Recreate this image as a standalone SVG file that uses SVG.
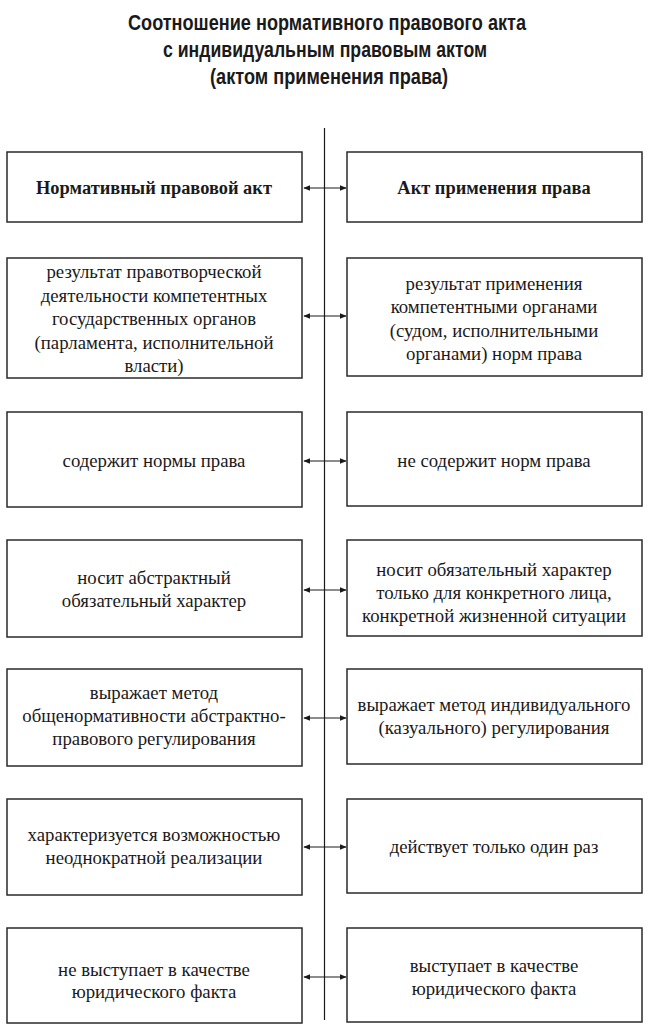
<svg xmlns="http://www.w3.org/2000/svg" width="650" height="1030" viewBox="0 0 650 1030">
<defs>
<style>
.t{font-family:"Liberation Sans",Arial,sans-serif;font-weight:bold;font-size:22px;fill:#1a1a1a;text-anchor:middle}
.b{fill:#fff;stroke:#2a2a2a;stroke-width:1.5}
.x{font-family:"Liberation Serif","Times New Roman","DejaVu Serif",serif;font-size:18.8px;fill:#1a1a1a;text-anchor:middle}
.h{font-weight:bold;font-size:18.4px}
.c{stroke:#1a1a1a;stroke-width:1.2;fill:none}
</style>
<marker id="ah" viewBox="0 0 10 10" refX="9" refY="5" markerWidth="7" markerHeight="7" orient="auto-start-reverse" markerUnits="userSpaceOnUse">
<path d="M0,1 L10,5 L0,9 Z" fill="#1a1a1a"/>
</marker>
</defs>
<rect width="650" height="1030" fill="#fff"/>
<g id="title">
<text class="t" x="327" y="30" textLength="398" lengthAdjust="spacingAndGlyphs">Соотношение нормативного правового акта</text>
<text class="t" x="325" y="57" textLength="324" lengthAdjust="spacingAndGlyphs">с индивидуальным правовым актом</text>
<text class="t" x="329" y="84" textLength="238" lengthAdjust="spacingAndGlyphs">(актом применения права)</text>
</g>
<g id="connectors">
<line class="c" x1="324.5" y1="128" x2="324.5" y2="1020"/>
<line class="c" x1="304" y1="188" x2="346" y2="188" marker-start="url(#ah)" marker-end="url(#ah)"/>
<line class="c" x1="304" y1="316" x2="346" y2="316" marker-start="url(#ah)" marker-end="url(#ah)"/>
<line class="c" x1="304" y1="461" x2="346" y2="461" marker-start="url(#ah)" marker-end="url(#ah)"/>
<line class="c" x1="304" y1="590" x2="346" y2="590" marker-start="url(#ah)" marker-end="url(#ah)"/>
<line class="c" x1="304" y1="718" x2="346" y2="718" marker-start="url(#ah)" marker-end="url(#ah)"/>
<line class="c" x1="304" y1="847" x2="346" y2="847" marker-start="url(#ah)" marker-end="url(#ah)"/>
<line class="c" x1="304" y1="977" x2="346" y2="977" marker-start="url(#ah)" marker-end="url(#ah)"/>
</g>
<g id="n1l"><rect class="b" x="7" y="152" width="295" height="70"/><text class="x h" x="154" y="194">Нормативный правовой акт</text></g>
<g id="n1r"><rect class="b" x="347" y="152" width="295" height="70"/><text class="x h" x="494" y="194">Акт применения права</text></g>
<g id="n2l"><rect class="b" x="7" y="258" width="295" height="120"/>
<text class="x" x="154" y="278">результат правотворческой</text>
<text class="x" x="154" y="302">деятельности компетентных</text>
<text class="x" x="154" y="325">государственных органов</text>
<text class="x" x="154" y="349">(парламента, исполнительной</text>
<text class="x" x="154" y="372">власти)</text></g>
<g id="n2r"><rect class="b" x="347" y="258" width="295" height="118"/>
<text class="x" x="494" y="290">результат применения</text>
<text class="x" x="494" y="313">компетентными органами</text>
<text class="x" x="494" y="337">(судом, исполнительными</text>
<text class="x" x="494" y="360">органами) норм права</text></g>
<g id="n3l"><rect class="b" x="7" y="412" width="295" height="95"/><text class="x" x="154" y="467">содержит нормы права</text></g>
<g id="n3r"><rect class="b" x="347" y="412" width="295" height="94"/><text class="x" x="494" y="467">не содержит норм права</text></g>
<g id="n4l"><rect class="b" x="7" y="540" width="295" height="97"/>
<text class="x" x="154" y="584">носит абстрактный</text>
<text class="x" x="154" y="607">обязательный характер</text></g>
<g id="n4r"><rect class="b" x="347" y="540" width="295" height="96"/>
<text class="x" x="494" y="576">носит обязательный характер</text>
<text class="x" x="494" y="599">только для конкретного лица,</text>
<text class="x" x="494" y="622">конкретной жизненной ситуации</text></g>
<g id="n5l"><rect class="b" x="7" y="669" width="295" height="97"/>
<text class="x" x="154" y="699">выражает метод</text>
<text class="x" x="154" y="722">общенормативности абстрактно-</text>
<text class="x" x="154" y="745">правового регулирования</text></g>
<g id="n5r"><rect class="b" x="347" y="669" width="295" height="95"/>
<text class="x" x="494" y="711">выражает метод индивидуального</text>
<text class="x" x="494" y="734">(казуального) регулирования</text></g>
<g id="n6l"><rect class="b" x="7" y="799" width="295" height="96"/>
<text class="x" x="154" y="841">характеризуется возможностью</text>
<text class="x" x="154" y="864">неоднократной реализации</text></g>
<g id="n6r"><rect class="b" x="347" y="799" width="295" height="94"/>
<text class="x" x="494" y="853">действует только один раз</text></g>
<g id="n7l"><rect class="b" x="7" y="928" width="295" height="95"/>
<text class="x" x="154" y="976">не выступает в качестве</text>
<text class="x" x="154" y="998">юридического факта</text></g>
<g id="n7r"><rect class="b" x="347" y="928" width="295" height="94"/>
<text class="x" x="494" y="972">выступает в качестве</text>
<text class="x" x="494" y="995">юридического факта</text></g>
</svg>
